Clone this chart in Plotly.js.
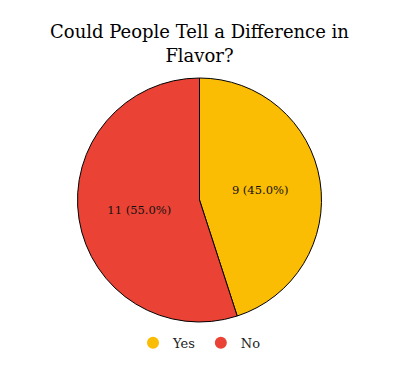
<!DOCTYPE html>
<html><head><meta charset="utf-8">
<script src="https://cdn.plot.ly/plotly-3.0.1.min.js"></script>
<style>html,body{margin:0;padding:0;background:#fff}</style>
</head><body>
<div id="chart" style="width:399px;height:371px"></div>
<script>
const labels = ["Yes", "No"];
const values = [9, 11];
const colors = ["#FBBC04", "#EA4335"];
const titleText = "Could People Tell a Difference in<br>Flavor?";

const pie = {
  type: "pie",
  labels: labels,
  values: values,
  sort: false,
  direction: "clockwise",
  rotation: 0,
  marker: {colors: colors, line: {color: "#000", width: 1}},
  texttemplate: "%{value} (%{percent:.1%})",
  textposition: "inside",
  insidetextorientation: "horizontal",
  textfont: {family: "DejaVu Serif", size: 11.5, color: "#111"},
  hoverinfo: "label+value+percent",
  showlegend: false
};
const legendTraces = labels.map((l, i) => ({
  type: "scatter", mode: "markers", x: [null], y: [null], name: l,
  marker: {color: colors[i], size: 12, symbol: "circle"},
  showlegend: true, hoverinfo: "skip"
}));

Plotly.newPlot("chart", [pie, ...legendTraces], {
  width: 399, height: 371,
  margin: {l: 20, r: 20, t: 78, b: 49},
  paper_bgcolor: "#fff", plot_bgcolor: "#fff",
  title: {text: titleText, x: 0.5, xanchor: "center", y: 0.897, yanchor: "top",
          font: {family: "DejaVu Serif", size: 18, color: "#000"}},
  xaxis: {visible: false}, yaxis: {visible: false},
  showlegend: true,
  legend: {orientation: "h", x: 0.5, xanchor: "center", y: -0.085, yanchor: "middle",
           font: {family: "DejaVu Serif", size: 13, color: "#222"}, itemwidth: 30}
}, {displayModeBar: false, staticPlot: true});
</script>
</body></html>
